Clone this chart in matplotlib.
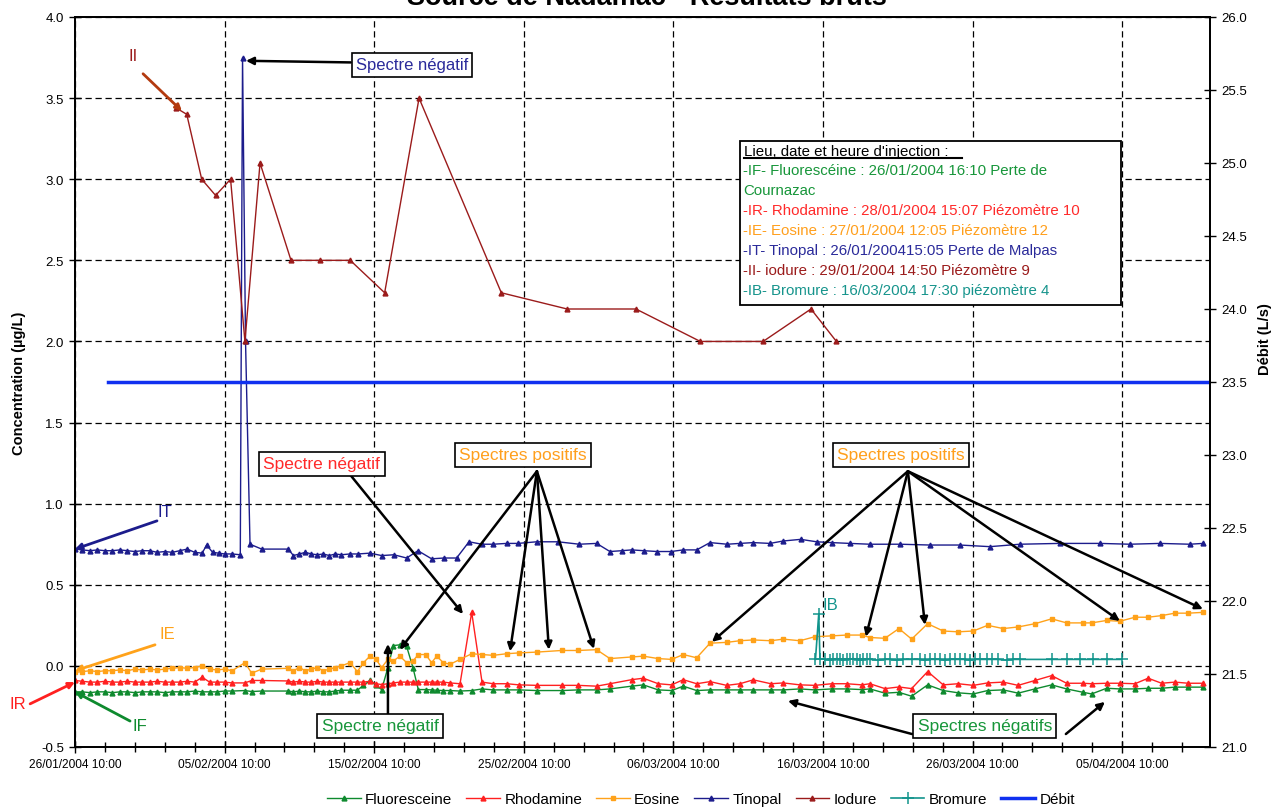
import matplotlib
matplotlib.use('Agg')
import matplotlib.pyplot as plt
import matplotlib.dates as mdates
from matplotlib.patches import Rectangle
from matplotlib.lines import Line2D
import pandas as pd

plt.rcParams['font.family'] = ['Liberation Sans', 'DejaVu Sans']

# origine des temps : 26/01/2004 10:00, temps en jours
t0 = pd.Timestamp('2004-01-26 10:00')
t_end = pd.Timestamp('2004-04-11 07:00')

# fluorimètre (fluo, rhodamine, éosine) : même pas de temps
fluo_days = [0.0, 0.5, 1.0, 1.5, 2.0, 2.5, 3.0, 3.5, 4.0, 4.5, 5.0, 5.5, 6.0, 6.5, 7.0, 7.5,
             8.0, 8.5, 9.0, 9.5, 10.0, 10.5,
             11.36, 11.81, 12.48, 14.26,
             14.6, 15.0, 15.4, 15.8, 16.2, 16.6, 17.0, 17.4, 17.8,
             18.38, 18.88, 19.28, 19.72, 20.12, 20.50, 20.92, 21.28, 21.72, 22.17, 22.59,
             22.95, 23.44, 23.84, 24.18, 24.62, 25.07, 25.74, 26.52, 27.21, 27.96,
             28.86, 29.68, 30.86, 32.53, 33.64, 34.87, 35.76, 37.21, 37.99, 38.99, 39.89,
             40.66, 41.56, 42.45, 43.56, 44.45, 45.34, 46.52, 47.35, 48.46, 49.47, 50.58,
             51.58, 52.61, 53.14, 54.14, 55.08, 55.93, 57.0, 58.04, 59.04, 60.05, 61.01,
             62.05, 63.05, 64.17, 65.29, 66.29, 67.40, 67.96, 68.96, 69.85, 70.86, 71.74,
             72.64, 73.53, 74.42, 75.42]

fluoresceine = [-0.16, -0.16, -0.165, -0.16, -0.16, -0.165, -0.16, -0.16, -0.165, -0.16, -0.16,
                -0.16, -0.165, -0.16, -0.16, -0.16, -0.155, -0.16, -0.16, -0.16, -0.155, -0.155,
                -0.152, -0.158, -0.155, -0.155,
                -0.16, -0.155, -0.16, -0.16, -0.155, -0.16, -0.16, -0.155, -0.15,
                -0.15, -0.15, -0.12, -0.09, -0.12, -0.146, -0.01, 0.125, 0.13, 0.12, -0.01,
                -0.146, -0.146, -0.148, -0.15, -0.152, -0.152, -0.155, -0.152, -0.142, -0.148,
                -0.148, -0.148, -0.152, -0.152, -0.148, -0.148, -0.142, -0.125, -0.117, -0.148,
                -0.152, -0.125, -0.152, -0.148, -0.148, -0.148, -0.148, -0.148, -0.148, -0.142,
                -0.148, -0.142, -0.142, -0.146, -0.142, -0.168, -0.163, -0.187, -0.117, -0.152,
                -0.166, -0.173, -0.152, -0.148, -0.168, -0.142, -0.117, -0.142, -0.163, -0.173,
                -0.138, -0.142, -0.142, -0.138, -0.138, -0.131, -0.131, -0.131]

rhodamine = [-0.09, -0.095, -0.1, -0.1, -0.095, -0.1, -0.1, -0.095, -0.1, -0.1, -0.1, -0.095,
             -0.1, -0.1, -0.1, -0.095, -0.1, -0.07, -0.1, -0.1, -0.1, -0.105,
             -0.105, -0.09, -0.09, -0.093,
             -0.1, -0.095, -0.1, -0.1, -0.095, -0.1, -0.1, -0.1, -0.1,
             -0.1, -0.1, -0.1, -0.095, -0.11, -0.115, -0.11, -0.105, -0.1, -0.1, -0.1,
             -0.1, -0.1, -0.1, -0.1, -0.1, -0.105, -0.11, 0.33, -0.1, -0.11,
             -0.11, -0.117, -0.12, -0.12, -0.12, -0.125, -0.11, -0.085, -0.076, -0.11,
             -0.117, -0.085, -0.11, -0.097, -0.12, -0.11, -0.086, -0.11, -0.105, -0.117,
             -0.12, -0.11, -0.11, -0.117, -0.11, -0.14, -0.13, -0.14, -0.035, -0.117,
             -0.11, -0.12, -0.105, -0.1, -0.12, -0.09, -0.06, -0.107, -0.107, -0.11,
             -0.107, -0.107, -0.11, -0.076, -0.107, -0.1, -0.107, -0.107]

eosine = [-0.04, -0.035, -0.03, -0.035, -0.03, -0.03, -0.025, -0.03, -0.02, -0.025, -0.02,
          -0.025, -0.02, -0.015, -0.01, -0.015, -0.01, 0.0, -0.02, -0.025, -0.02, -0.03,
          0.02, -0.045, -0.02, -0.015,
          -0.03, -0.01, -0.03, -0.02, -0.01, -0.03, -0.02, -0.01, 0.0,
          0.02, -0.035, 0.02, 0.06, 0.04, -0.01, 0.04, 0.03, 0.06, 0.02, 0.03,
          0.07, 0.07, 0.02, 0.06, 0.02, 0.01, 0.04, 0.075, 0.07, 0.065,
          0.075, 0.08, 0.085, 0.095, 0.095, 0.10, 0.045, 0.055, 0.06, 0.045, 0.04,
          0.07, 0.05, 0.14, 0.145, 0.155, 0.16, 0.155, 0.165, 0.155, 0.18, 0.185,
          0.19, 0.19, 0.175, 0.17, 0.23, 0.165, 0.26, 0.215, 0.21, 0.215, 0.25,
          0.23, 0.24, 0.26, 0.29, 0.265, 0.265, 0.265, 0.28, 0.275, 0.30, 0.30,
          0.31, 0.325, 0.325, 0.33]

tinopal_days = [0.0, 0.5, 1.0, 1.5, 2.0, 2.5, 3.0, 3.5, 4.0, 4.5, 5.0, 5.5, 6.0, 6.5, 7.0, 7.5,
                8.0, 8.5, 8.8, 9.2, 9.6, 10.0, 10.5, 11.05, 11.2, 11.4, 11.7, 12.48, 14.26,
                14.6, 15.0, 15.4, 15.8, 16.2, 16.6, 17.0, 17.4, 17.8,
                18.38, 18.92, 19.72, 20.5, 21.32, 22.17, 22.93, 23.84, 24.67, 25.51, 26.34,
                27.19, 27.94, 28.86, 29.61, 30.86, 32.29, 33.71, 34.87, 35.76, 36.54, 37.21,
                38.04, 38.92, 39.84, 40.66, 41.56, 42.45, 43.6, 44.45, 45.34, 46.46, 47.35,
                48.51, 49.58, 50.58, 51.8, 53.14, 55.15, 57.15, 59.16, 61.16, 63.17, 65.84,
                68.52, 70.52, 72.53, 74.53, 75.4]
tinopal = [0.72, 0.715, 0.71, 0.715, 0.71, 0.71, 0.715, 0.71, 0.705, 0.71, 0.71, 0.70, 0.705,
           0.70, 0.71, 0.72, 0.70, 0.695, 0.745, 0.70, 0.695, 0.69, 0.69, 0.685, 3.75, 2.0,
           0.75, 0.72, 0.72,
           0.68, 0.69, 0.70, 0.69, 0.685, 0.69, 0.68, 0.69, 0.685,
           0.69, 0.69, 0.695, 0.68, 0.685, 0.665, 0.71, 0.66, 0.665, 0.665, 0.765,
           0.75, 0.75, 0.755, 0.755, 0.765, 0.765, 0.75, 0.755, 0.705, 0.71, 0.715,
           0.71, 0.705, 0.705, 0.715, 0.715, 0.76, 0.75, 0.755, 0.76, 0.755, 0.77,
           0.78, 0.765, 0.76, 0.755, 0.75, 0.75, 0.745, 0.745, 0.735, 0.75, 0.755,
           0.755, 0.75, 0.755, 0.75, 0.755]

iodure_days = [6.75, 7.47, 8.47, 9.4, 10.4, 11.36, 12.37, 14.44, 16.4, 18.4, 20.7, 23.0,
               28.5, 32.9, 37.5, 41.8, 46.0, 49.2, 50.9]
iodure = [3.44, 3.40, 3.0, 2.9, 3.0, 2.0, 3.1, 2.5, 2.5, 2.5, 2.3, 3.5,
          2.3, 2.2, 2.2, 2.0, 2.0, 2.2, 2.0]

bromure_days = [49.5, 49.72, 49.8,
                50.13, 50.47, 50.69, 50.92, 51.14, 51.36, 51.58, 51.80, 52.03, 52.25, 52.47,
                52.69, 52.92, 53.14,
                53.70, 54.14, 54.48, 54.93, 55.37, 55.93, 56.48, 56.82, 57.15, 57.49, 57.82,
                58.16, 58.49, 58.82, 59.16, 59.49, 59.83, 60.16, 60.49, 60.94, 61.28, 61.72,
                62.28, 62.72, 63.17,
                65.29, 66.29, 67.18, 68.07, 68.96, 69.97]
bromure = [0.04, 0.32, 0.045,
           0.04, 0.035, 0.04, 0.045, 0.04, 0.035, 0.04, 0.04, 0.045, 0.04, 0.035,
           0.04, 0.04, 0.04,
           0.035, 0.04, 0.04, 0.035, 0.04, 0.04, 0.04, 0.035, 0.04, 0.04, 0.04,
           0.035, 0.04, 0.04, 0.04, 0.04, 0.035, 0.04, 0.04, 0.04, 0.04, 0.04,
           0.035, 0.04, 0.04,
           0.04, 0.04, 0.04, 0.04, 0.04, 0.04]

debit_days = [2.2, 75.9]
debit = [23.5, 23.5]

injections = [
    ("-IF- Fluorescéine : 26/01/2004 16:10 Perte de", '#17963A'),
    ("Cournazac", '#17963A'),
    ("-IR- Rhodamine : 28/01/2004 15:07 Piézomètre 10", '#FF2A2A'),
    ("-IE- Eosine : 27/01/2004 12:05 Piézomètre 12", '#FF9F1C'),
    ("-IT- Tinopal : 26/01/200415:05 Perte de Malpas", '#2A2A9A'),
    ("-II- iodure : 29/01/2004 14:50 Piézomètre 9", '#9B1B1B'),
    ("-IB- Bromure : 16/03/2004 17:30 piézomètre 4", '#16948C'),
]

c_fluo, c_rhod, c_eos = '#0E8A2E', '#FF2020', '#FFA21A'
c_tino, c_iod, c_brom, c_deb = '#1C1C8C', '#9B1B1B', '#12948C', '#1030F0'


def when(days):
    return [t0 + pd.Timedelta(days=d) for d in days]


def at(day):
    return mdates.date2num(t0 + pd.Timedelta(days=day))


def fpx(x, y):
    return (x / 1274, 1 - y / 812)


fig = plt.figure(figsize=(12.74, 8.12), dpi=100)
ax = fig.add_axes([75 / 1274, 1 - 748 / 812, 1135 / 1274, 730 / 812])
ax2 = ax.twinx()

mk = dict(lw=1.0, markersize=3.5)
ax.plot(when(fluo_days), fluoresceine, '-^', color=c_fluo, label='Fluoresceine', **mk)
ax.plot(when(fluo_days), rhodamine, '-^', color=c_rhod, label='Rhodamine', **mk)
ax.plot(when(fluo_days), eosine, '-s', color=c_eos, label='Eosine', lw=1.0, markersize=3)
ax.plot(when(tinopal_days), tinopal, '-^', color=c_tino, label='Tinopal', **mk)
ax.plot(when(iodure_days), iodure, '-^', color=c_iod, label='Iodure', **mk)
ax.plot(when(bromure_days), bromure, '-+', color=c_brom, label='Bromure', lw=1.2,
        markersize=8, mew=1.1)
ax2.plot(when(debit_days), debit, '-', color=c_deb, lw=2.5, label='Débit')

ax.set_xlim(t0, t_end)
ax.set_ylim(-0.5, 4.0)
ax2.set_ylim(21.0, 26.0)
ax.set_yticks([-0.5 + 0.5 * i for i in range(10)])
ax2.set_yticks([21.0 + 0.5 * i for i in range(11)])
ax.yaxis.set_major_formatter(matplotlib.ticker.FormatStrFormatter('%.1f'))
ax2.yaxis.set_major_formatter(matplotlib.ticker.FormatStrFormatter('%.1f'))
ax.set_xticks(pd.date_range(t0, periods=8, freq='10D'))
ax.set_xticks(pd.date_range(t0, t_end, freq='2D'), minor=True)
ax.xaxis.set_major_formatter(mdates.DateFormatter('%d/%m/%Y %H:%M'))

ax.grid(True, which='major', linestyle=(0, (5, 3)), color='black', lw=0.9)
for a in (ax, ax2):
    a.tick_params(axis='both', which='major', direction='inout', length=9, width=1,
                  labelsize=9.5)
    a.tick_params(axis='x', which='minor', direction='inout', length=7, width=1)
    for s in a.spines.values():
        s.set_linewidth(1.3)
ax.tick_params(axis='x', labelsize=8.6)

ax.set_ylabel('Concentration (µg/L)', fontsize=10.5, fontweight='bold')
ax.yaxis.set_label_coords(-0.043, 0.5)
ax2.set_ylabel('Débit (L/s)', fontsize=10.5, fontweight='bold')
ax2.yaxis.set_label_coords(1.042, 0.56)

fig.text(0.508, 1 - 5 / 812, 'Source de Nadamac - Résultats bruts', ha='center',
         va='baseline', fontsize=19.5, fontweight='bold')

# étiquettes des injections
arrow_k = dict(arrowstyle='-|>', lw=2, mutation_scale=9, shrinkA=0, shrinkB=0)
labels = [
    ('II', 3.88, 3.76, 4.55, 3.65, 7.15, 3.42, c_iod, '#B33A0F'),
    ('IT', 6.02, 0.95, 5.48, 0.894, 0.0, 0.72, c_tino, c_tino),
    ('IE', 6.15, 0.197, 5.35, 0.13, 0.0, -0.03, c_eos, c_eos),
    ('IR', -3.81, -0.234, -3.0, -0.234, 0.0, -0.1, c_rhod, c_rhod),
    ('IF', 4.35, -0.37, 3.68, -0.34, 0.0, -0.16, c_fluo, c_fluo),
]
for txt, tx, ty, sx, sy, ex, ey, tc, ac in labels:
    ax.text(at(tx), ty, txt, color=tc, fontsize=12, ha='center', va='center', clip_on=False)
    ax.annotate('', xy=(at(ex), ey), xytext=(at(sx), sy), annotation_clip=False,
                arrowprops=dict(color=ac, **arrow_k))
ax.text(at(50.53), 0.376, 'IB', color=c_brom, fontsize=12, ha='center', va='center')

# commentaires encadrés
box = dict(boxstyle='square,pad=0.25', fc='white', ec='black', lw=1.2)
arr = dict(arrowstyle='-|>', color='black', lw=1.8, mutation_scale=11, shrinkA=0, shrinkB=0)
notes = [
    ('Spectre négatif', 22.53, 3.705, '#2A2A9A', 12,
     [((22.53 - 4.1, 3.72), (11.43, 3.73))]),
    ('Spectre négatif', 16.5, 1.245, '#FF2A2A', 12.5, [((18.38, 1.18), (25.94, 0.32))]),
    ('Spectres positifs', 29.95, 1.30, '#FF9F1C', 12.5,
     [((30.88, 1.20), (29.08, 0.09)), ((30.88, 1.20), (31.68, 0.10)),
      ((30.88, 1.20), (34.69, 0.105)), ((30.88, 1.20), (21.72, 0.10))]),
    ('Spectre négatif', 20.39, -0.37, '#17963A', 12.5, [((20.92, -0.30), (20.92, 0.135))]),
    ('Spectres positifs', 55.2, 1.30, '#FF9F1C', 12.5,
     [((55.68, 1.20), (42.58, 0.148)), ((55.68, 1.20), (52.87, 0.18)),
      ((55.68, 1.20), (56.82, 0.253)), ((55.68, 1.20), (69.85, 0.277)),
      ((55.68, 1.20), (75.40, 0.35))]),
    ('Spectres négatifs', 60.83, -0.37, '#17963A', 12.5,
     [((55.95, -0.42), (47.66, -0.216)), ((66.24, -0.42), (68.85, -0.222))]),
]
for txt, tx, ty, tc, fs, arrows in notes:
    for (sx, sy), (ex, ey) in arrows:
        ax.annotate('', xy=(at(ex), ey), xytext=(at(sx), sy), arrowprops=arr, zorder=6)
    ax.text(at(tx), ty, txt, color=tc, fontsize=fs, ha='center', va='center', bbox=box,
            zorder=7)

# cadre lieu, date et heure d'injection
x0, y0 = fpx(740, 306)
fig.patches.append(Rectangle((x0, y0), 381 / 1274, 164 / 812, transform=fig.transFigure,
                             fc='white', ec='black', lw=1.3, zorder=5))
fig.text(*fpx(744, 155.7), "Lieu, date et heure d'injection :", fontsize=10.8,
         va='baseline', zorder=6)
fig.lines.append(Line2D([744 / 1274, 962 / 1274], [1 - 159 / 812] * 2,
                        transform=fig.transFigure, color='black', lw=1.5, zorder=6))
for i, (txt, col) in enumerate(injections):
    fig.text(*fpx(743, 175 + 20 * i), txt, color=col, fontsize=10.8, va='baseline', zorder=6)

h1, l1 = ax.get_legend_handles_labels()
h2, l2 = ax2.get_legend_handles_labels()
fig.legend(h1 + h2, l1 + l2, loc='center', bbox_to_anchor=fpx(701, 800), ncol=7,
           frameon=False, handlelength=2.2, columnspacing=0.9, handletextpad=0.3,
           prop={'family': ['Liberation Sans Narrow', 'Liberation Sans'], 'size': 11})

fig.savefig('out.png', dpi=100)
